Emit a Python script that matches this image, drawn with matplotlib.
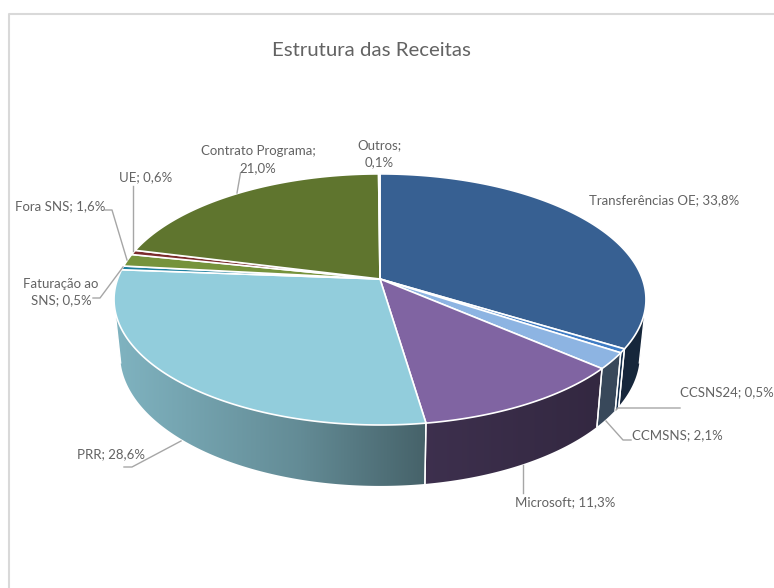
import numpy as np
import matplotlib
matplotlib.use('Agg')
import matplotlib.pyplot as plt
from matplotlib.patches import Polygon

# valores das receitas (%), sentido horario a partir do topo
values = [33.8, 0.5, 2.1, 11.3, 28.6, 0.5, 1.6, 0.6, 21.0, 0.1]
colors = ['#376092', '#3F7CC4', '#8DB4E2', '#8064A2', '#92CDDC', '#1F7F9F', '#76933C', '#7B2C2C', '#5F752E', '#E46C0A']
label_texts = ['Transferências OE; 33,8%', 'CCSNS24; 0,5%', 'CCMSNS; 2,1%', 'Microsoft; 11,3%', 'PRR; 28,6%',
               'Faturação ao\nSNS; 0,5%', 'Fora SNS; 1,6%', 'UE; 0,6%', 'Contrato Programa;\n21,0%', 'Outros;\n0,1%']

# posicao das etiquetas em pixeis
label_pos = [(589, 200, 'left'), (680, 392, 'left'), (632, 435, 'left'), (565, 502, 'center'), (77, 454, 'left'),
             (61, 292, 'center'), (15, 206, 'left'), (119, 177, 'left'), (258, 159.5, 'center'), (379, 153.5, 'center')]
leaders = [
    [(680, 408), (618, 408), (616, 410)],
    [(631, 440), (623, 440), (606, 421)],
    [(523, 493), (523, 465)],
    [(124, 467), (132, 467), (181, 441)],
    [(93, 298), (100, 298), (123, 267)],
    [(105, 210), (112, 210), (127, 260)],
    [(133, 186), (133, 251)],
    [(240.5, 173), (237, 193)],
]

plt.rcParams['font.family'] = ['Lato', 'DejaVu Sans']

fig = plt.figure(figsize=(7.74, 5.88), dpi=100)
ax = fig.add_axes([0, 0, 1, 1])
ax.axis('off')

# projecao em perspectiva do disco
K = 0.163


def top_ring(theta):
    u, v = np.sin(theta), np.cos(theta)
    w = 1 + K * v
    return 380 + 262.4 * u / w, 279 - 122.2 * v / w


def low_ring(theta):
    u, v = np.sin(theta), np.cos(theta)
    w = 1 + K * v
    return 380 + 256.4 * u / w, 333 - 128 * v / w


def shade(x):
    return np.interp(x, [120, 300, 425, 600, 645], [0.87, 0.68, 0.48, 0.40, 0.41])


total = sum(values)
edges = np.radians(np.concatenate([[0], np.cumsum(values)]) / total * 360)
vis_a, vis_b = np.radians(103), np.radians(257)

# faces laterais com gradiente
xs = np.arange(110, 650)
for i, col in enumerate(colors):
    a, b = max(edges[i], vis_a), min(edges[i + 1], vis_b)
    if a >= b:
        continue
    t = np.linspace(a, b, 120)
    x1, y1 = top_ring(t)
    x2, y2 = low_ring(t)
    pts = np.column_stack([np.r_[x1, x2[::-1]], np.r_[y1, y2[::-1]]])
    base = np.array(matplotlib.colors.to_rgb(col))
    grad = np.outer(shade(xs + 0.5), base).reshape(1, len(xs), 3)
    im = ax.imshow(grad, extent=[110, 650, 500, 250], aspect='auto', zorder=2)
    im.set_clip_path(Polygon(pts, transform=ax.transData))
    ax.plot(pts[[119, 120], 0], pts[[119, 120], 1], color='white', lw=1.0, zorder=3)
    ax.plot(pts[[0, -1], 0], pts[[0, -1], 1], color='white', lw=1.0, zorder=3)

# cobrir o contorno exterior lateral
for i, col in enumerate(colors):
    t = np.linspace(edges[i], edges[i + 1], 200)
    x1, y1 = top_ring(t)
    pts = np.column_stack([np.r_[380, x1], np.r_[279, y1]])
    ax.add_patch(Polygon(pts, closed=True, facecolor=col, edgecolor='white', lw=1.2, zorder=4, joinstyle='round'))

for seg in leaders:
    ax.plot([p[0] for p in seg], [p[1] for p in seg], color='#A6A6A6', lw=1.0, zorder=5)

for txt, (x, y, ha) in zip(label_texts, label_pos):
    ax.text(x, y, txt, ha=ha, va='center', fontsize=9.5, color='#636363', linespacing=1.45, zorder=6, clip_on=False)

ax.text(371, 50, 'Estrutura das Receitas', ha='center', va='center', fontsize=14.7, color='#636363', zorder=6)

# moldura do grafico
ax.plot([9, 9, 774], [588, 14, 14], color='#D9D9D9', lw=1.5, zorder=1)

ax.set_xlim(0, 774)
ax.set_ylim(588, 0)
fig.savefig('out.png', dpi=100, facecolor='white')
